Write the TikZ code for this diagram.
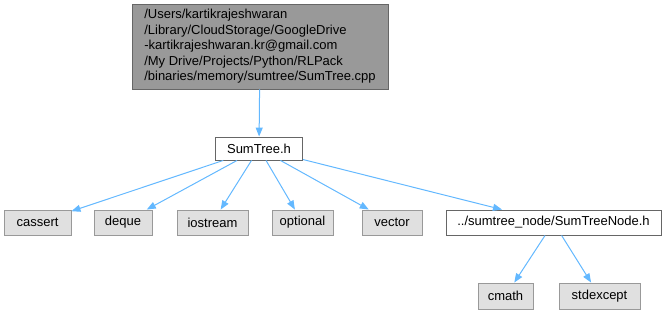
\documentclass[tikz,border=0pt]{standalone}
\usepackage{fontspec}
\setmainfont{Liberation Sans}
\usetikzlibrary{arrows.meta}
\definecolor{edgeblue}{HTML}{63B8FF}
\definecolor{rootfill}{HTML}{999999}
\definecolor{leaffill}{HTML}{E0E0E0}
\tikzset{>={Triangle[length=9pt,width=7pt]},
  file/.style={draw=black!60, line width=0.9pt, fill=white, inner sep=0pt,
    minimum height=23pt, font=\fontsize{13}{15.5}\selectfont},
  sysfile/.style={file, draw=black!40, fill=leaffill, minimum height=25pt},
  dep/.style={->, draw=edgeblue, line width=1pt}}

\begin{document}
\begin{tikzpicture}[x=1pt, y=-1pt]
\useasboundingbox (0,0) rectangle (667,315);
\node[file, fill=rootfill, minimum width=256pt, minimum height=85pt,
  align=left] (cpp) at (260,46.5) {/Users/kartikrajeshwaran\\/Library/CloudStorage/GoogleDrive\\-kartikrajeshwaran.kr@gmail.com\\/My Drive/Projects/Python/RLPack\\/binaries/memory/sumtree/SumTree.cpp};
\node[file, minimum width=87pt] (sumtree) at (259,148.5) {SumTree.h};
\node[sysfile, minimum width=67pt] (cassert) at (37.5,222.5) {cassert};
\node[sysfile, minimum width=58pt] (deque) at (123,222.5) {deque};
\node[sysfile, minimum width=71pt] (iostream) at (212.5,222.5) {iostream};
\node[sysfile, minimum width=61pt] (optional) at (302.5,222.5) {optional};
\node[sysfile, minimum width=60pt] (vector) at (392,222.5) {vector};
\node[file, minimum width=215pt, minimum height=25pt] (node) at (553.5,222.5) {../sumtree\_node/SumTreeNode.h};
\node[sysfile, minimum width=55pt, minimum height=26pt] (cmath) at (505.5,296) {cmath};
\node[sysfile, minimum width=81pt, minimum height=26pt] (stdexcept) at (599.5,296) {stdexcept};
% include edges
\draw[dep] (cpp) -- (sumtree);
\foreach \dst in {cassert, deque, iostream, optional, vector, node}
  \draw[dep] (sumtree) -- (\dst);
\draw[dep] (node) -- (cmath);
\draw[dep] (node) -- (stdexcept);
\end{tikzpicture}
\end{document}
